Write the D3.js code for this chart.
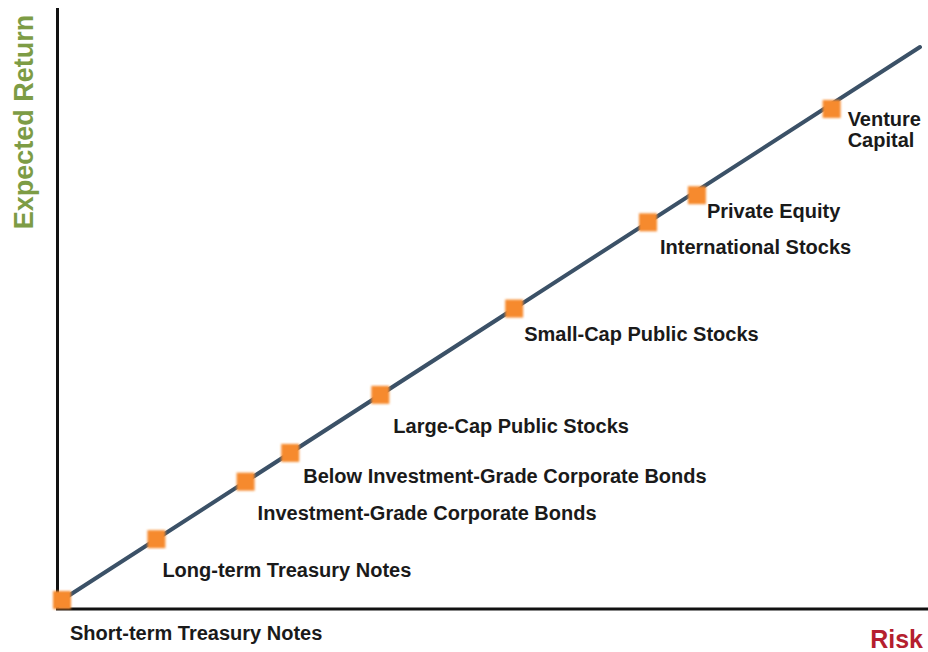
<!DOCTYPE html>
<html><head><meta charset="utf-8">
<script src="https://cdn.jsdelivr.net/npm/d3@7"></script>
<style>body{margin:0;background:#fff}svg{display:block}text{font-family:"Liberation Sans",Arial,sans-serif;font-weight:bold}</style>
</head><body><svg id="c" width="928" height="652"></svg>
<script>
const assets = ["Short-term Treasury Notes","Long-term Treasury Notes","Investment-Grade Corporate Bonds","Below Investment-Grade Corporate Bonds","Large-Cap Public Stocks","Small-Cap Public Stocks","International Stocks","Private Equity","Venture Capital"];
const risk = [0, 1.1, 2.14, 2.66, 3.71, 5.27, 6.83, 7.40, 8.97];
const expectedReturn = [0, 1.1, 2.14, 2.66, 3.71, 5.27, 6.83, 7.32, 8.88];
const lineRisk = [0, 10];
const lineReturn = [0, 10];

const labelOffsets = [[8,40],[6,38],[12,38],[13,30],[13,38],[10,32],[12,32],[10,23],[16,17]];

const svg = d3.select("#c");
const x = d3.scaleLinear().domain([0,10]).range([62,920]);
const y = d3.scaleLinear().domain([0,10]).range([600,47]);

svg.append("line").attr("x1",57.5).attr("x2",57.5).attr("y1",8).attr("y2",610).attr("stroke","#111").attr("stroke-width",3);
svg.append("line").attr("x1",56).attr("x2",928).attr("y1",609).attr("y2",609).attr("stroke","#111").attr("stroke-width",3);

const pts = lineRisk.map((r,i)=>[r,lineReturn[i]]);
svg.append("path").attr("d", d3.line().x(d=>x(d[0])).y(d=>y(d[1]))(pts))
  .attr("stroke","#3b5167").attr("stroke-width",4).attr("fill","none").attr("stroke-linecap","round");

const data = assets.map((a,i)=>({name:a, r:risk[i], e:expectedReturn[i], off:labelOffsets[i]}));

const defs = svg.append("defs");
defs.append("filter").attr("id","blur").append("feGaussianBlur").attr("stdDeviation",0.8);

svg.selectAll("rect.m").data(data).enter().append("rect").attr("class","m")
  .attr("x",d=>x(d.r)-9).attr("y",d=>y(d.e)-9).attr("width",18).attr("height",18)
  .attr("fill","#f68a2e").attr("filter","url(#blur)");

const lbl = svg.selectAll("text.l").data(data).enter().append("text").attr("class","l")
  .attr("x",d=>x(d.r)+d.off[0]).attr("y",d=>y(d.e)+d.off[1])
  .attr("font-size",20).attr("fill","#1a1a1a");
lbl.each(function(d){
  const t = d3.select(this);
  if(d.name==="Venture Capital"){
    t.append("tspan").attr("x",x(d.r)+d.off[0]).text("Venture");
    t.append("tspan").attr("x",x(d.r)+d.off[0]).attr("dy",21).text("Capital");
  } else t.text(d.name);
});

svg.append("text").attr("transform","translate(33,122) rotate(-90)").attr("text-anchor","middle")
  .attr("font-size",27).attr("fill","#7d9c45").text("Expected Return");
svg.append("text").attr("x",923).attr("y",648).attr("text-anchor","end")
  .attr("font-size",25).attr("fill","#b51f2f").text("Risk");
</script></body></html>
